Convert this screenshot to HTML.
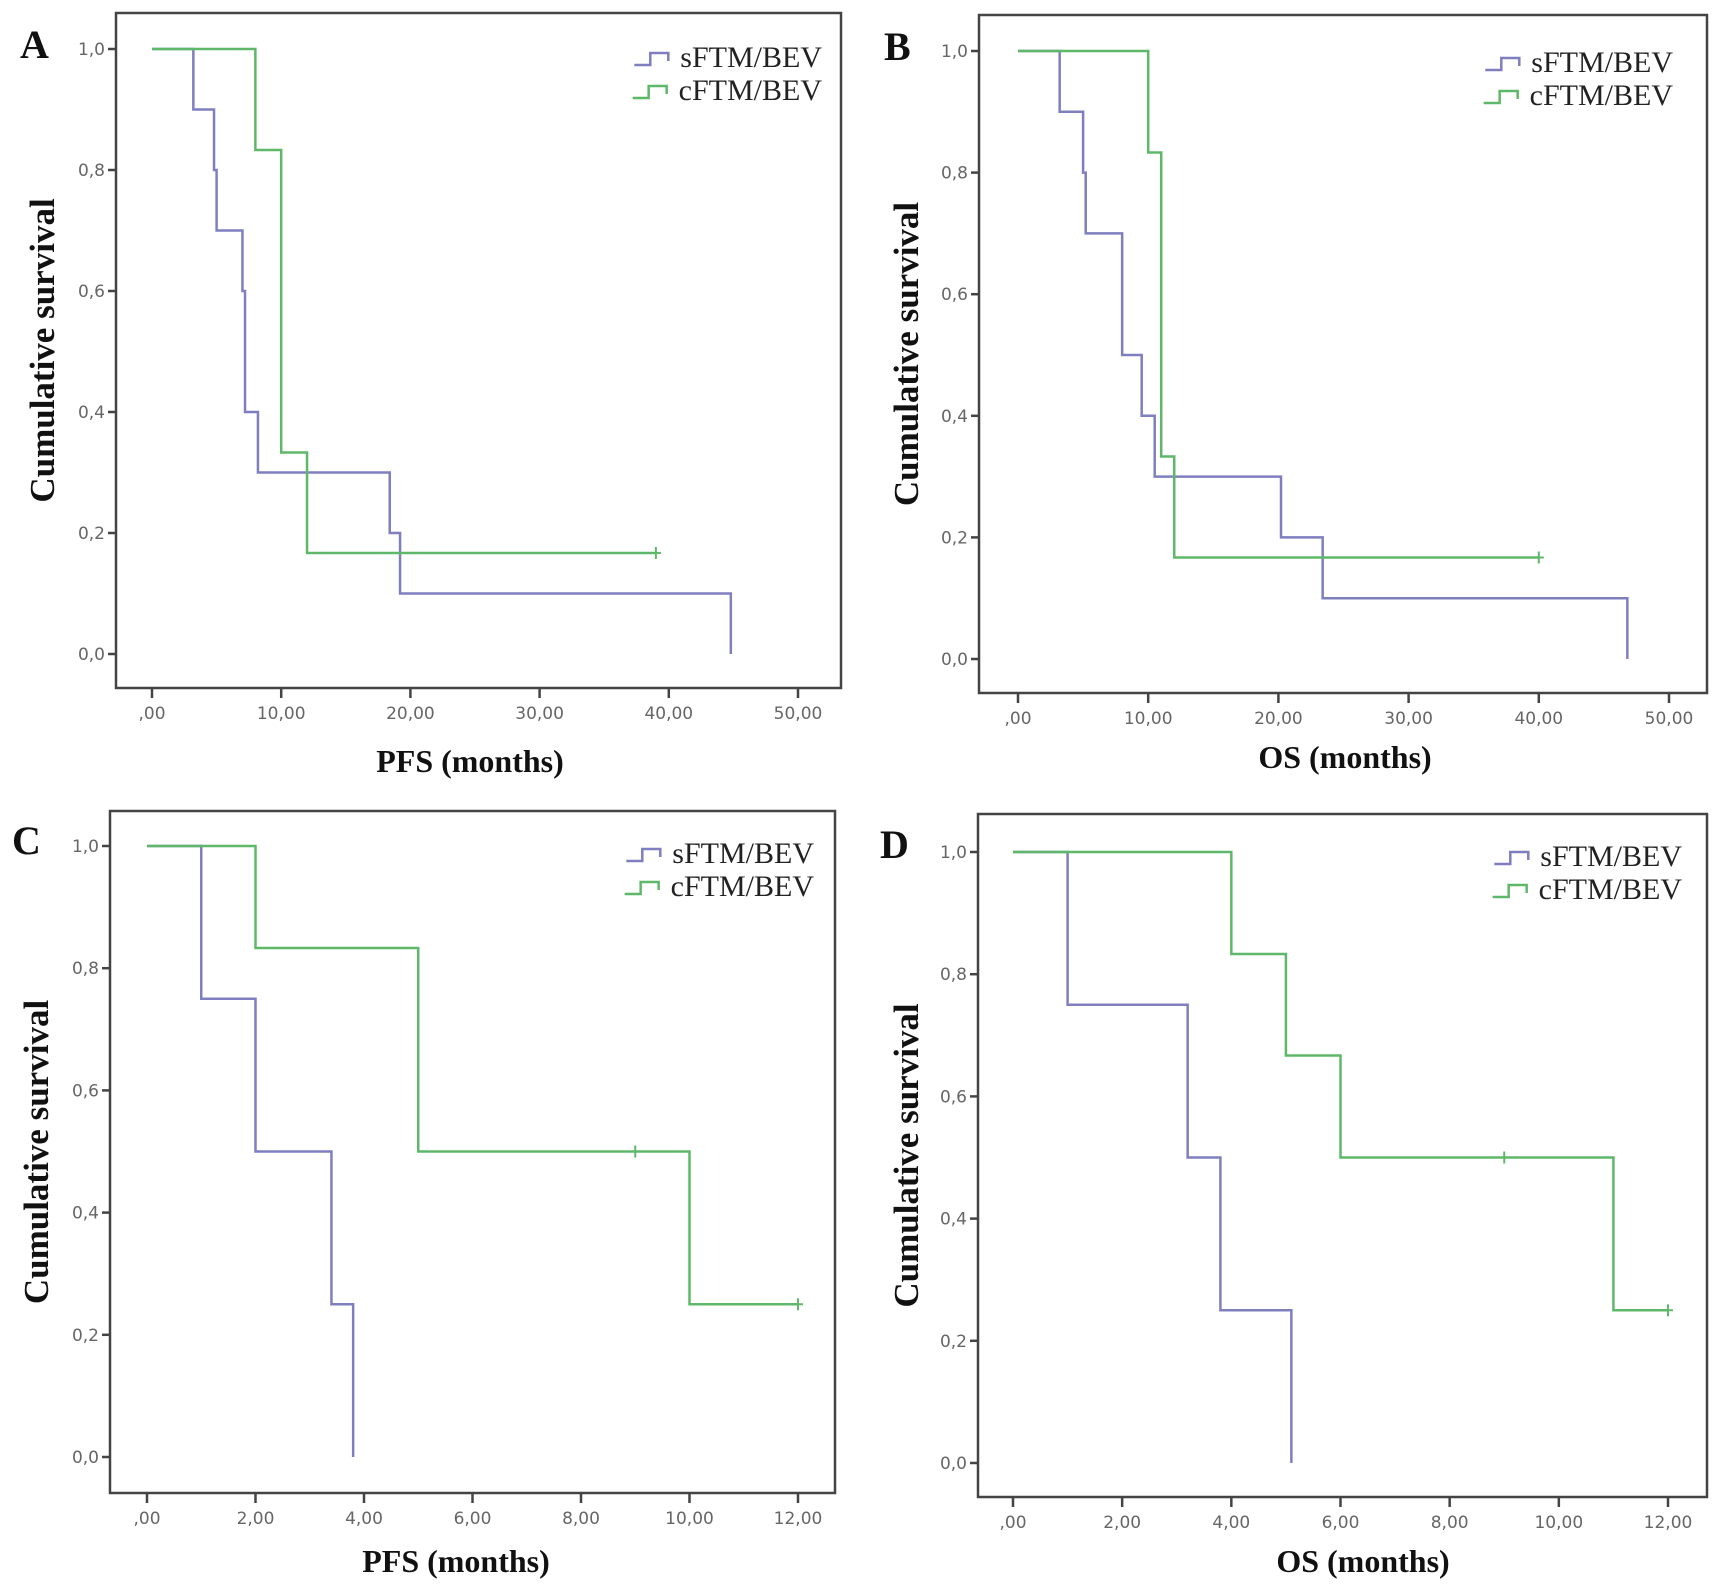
<!DOCTYPE html>
<html><head><meta charset="utf-8"><style>
html,body{margin:0;padding:0;background:#fff;}
svg{display:block;}
</style></head><body>
<svg id="fig" width="1722" height="1594" viewBox="0 0 1722 1594" xmlns="http://www.w3.org/2000/svg"></svg>
<script>
// ---- data ----
const panelLetters = ["A","B","C","D"];
const xTitles = ["PFS (months)","OS (months)","PFS (months)","OS (months)"];
const xTicksAB = [0,10,20,30,40,50];
const xTicksCD = [0,2,4,6,8,10,12];
const xTickLabelsAB = [",00","10,00","20,00","30,00","40,00","50,00"];
const xTickLabelsCD = [",00","2,00","4,00","6,00","8,00","10,00","12,00"];
const yTicks = [0,0.2,0.4,0.6,0.8,1.0];
const yTickLabels = ["0,0","0,2","0,4","0,6","0,8","1,0"];
const seriesNames = ["sFTM/BEV","cFTM/BEV"];
// step curves: times and survival after each step
const A_s_t = [0,3.2,4.8,5.0,7.0,7.2,8.2,18.4,19.2,44.8];
const A_s_v = [1,0.9,0.8,0.7,0.6,0.4,0.3,0.2,0.1,0];
const A_s_end = 44.8;
const A_c_t = [0,8.0,10.0,12.0];
const A_c_v = [1,0.833,0.333,0.167];
const A_c_end = 39; const A_c_cens = [39];
const B_s_t = [0,3.2,5.0,5.2,8.0,9.5,10.5,20.2,23.4,46.8];
const B_s_v = [1,0.9,0.8,0.7,0.5,0.4,0.3,0.2,0.1,0];
const B_s_end = 46.8;
const B_c_t = [0,10.0,11.0,12.0];
const B_c_v = [1,0.833,0.333,0.167];
const B_c_end = 40; const B_c_cens = [40];
const C_s_t = [0,1.0,2.0,3.4,3.8];
const C_s_v = [1,0.75,0.5,0.25,0];
const C_s_end = 3.8;
const C_c_t = [0,2.0,5.0,10.0];
const C_c_v = [1,0.833,0.5,0.25];
const C_c_end = 12; const C_c_cens = [9,12];
const D_s_t = [0,1.0,3.2,3.8,5.1];
const D_s_v = [1,0.75,0.5,0.25,0];
const D_s_end = 5.1;
const D_c_t = [0,4.0,5.0,6.0,11.0];
const D_c_v = [1,0.833,0.667,0.5,0.25];
const D_c_end = 12; const D_c_cens = [9,12];

const NS="http://www.w3.org/2000/svg";
const svg=document.getElementById('fig');
const BLUE="#7f7fc0", GREEN="#5fb86a";
function mk(tag,attrs,parent){const e=document.createElementNS(NS,tag);for(const k in attrs)e.setAttribute(k,attrs[k]);(parent||svg).appendChild(e);return e;}

const layouts=[
 {fx0:116,fy0:13,fx1:841,fy1:688,x0:152,xMax:50,xEnd:798,y0:654,y1:49,ticks:xTicksAB,labels:xTickLabelsAB,titleY:772,titleX:470,letterX:20,letterY:58,legX:680,legY:57,ylabX:46},
 {fx0:979,fy0:15,fx1:1707,fy1:693,x0:1018,xMax:50,xEnd:1669,y0:659,y1:51,ticks:xTicksAB,labels:xTickLabelsAB,titleY:768,titleX:1345,letterX:884,letterY:60,legX:1531,legY:62,ylabX:910},
 {fx0:110,fy0:811,fx1:835,fy1:1493,x0:147,xMax:12,xEnd:798,y0:1457,y1:846,ticks:xTicksCD,labels:xTickLabelsCD,titleY:1572,titleX:456,letterX:12,letterY:854,legX:672,legY:853,ylabX:40},
 {fx0:978,fy0:814,fx1:1707,fy1:1497,x0:1013,xMax:12,xEnd:1668,y0:1463,y1:852,ticks:xTicksCD,labels:xTickLabelsCD,titleY:1572,titleX:1363,letterX:880,letterY:858,legX:1540,legY:856,ylabX:910}
];
const panelData=[
 [[A_s_t,A_s_v,A_s_end,[]],[A_c_t,A_c_v,A_c_end,A_c_cens]],
 [[B_s_t,B_s_v,B_s_end,[]],[B_c_t,B_c_v,B_c_end,B_c_cens]],
 [[C_s_t,C_s_v,C_s_end,[]],[C_c_t,C_c_v,C_c_end,C_c_cens]],
 [[D_s_t,D_s_v,D_s_end,[]],[D_c_t,D_c_v,D_c_end,D_c_cens]]
];

layouts.forEach((L,pi)=>{
  const g=mk('g',{});
  
  
  const xs=v=>L.x0+(L.xEnd-L.x0)*v/L.xMax;
  const ys=v=>L.y0+(L.y1-L.y0)*v;
  const fr=mk('rect',{x:L.fx0,y:L.fy0,width:L.fx1-L.fx0,height:L.fy1-L.fy0,fill:'none',stroke:'#444','stroke-width':2.5},g);
  
  
  yTicks.forEach((t,i)=>{
    mk('line',{x1:L.fx0-8,x2:L.fx0,y1:ys(t),y2:ys(t),stroke:'#444','stroke-width':2.5},g);
    const tx=mk('text',{x:L.fx0-11,y:ys(t)+6,'text-anchor':'end','font-family':'DejaVu Sans, sans-serif','font-size':17,fill:'#666'},g);
    tx.textContent=yTickLabels[i];
    
    
  });
  L.ticks.forEach((t,i)=>{
    mk('line',{x1:xs(t),x2:xs(t),y1:L.fy1,y2:L.fy1+10,stroke:'#444','stroke-width':2.5},g);
    const tx=mk('text',{x:xs(t),y:L.fy1+31,'text-anchor':'middle','font-family':'DejaVu Sans, sans-serif','font-size':17,fill:'#666'},g);
    tx.textContent=L.labels[i];
    
    
  });
  const xt=mk('text',{x:L.titleX,y:L.titleY,'text-anchor':'middle','font-family':'Liberation Serif, serif','font-size':32,'font-weight':'bold',fill:'#111'},g);
  xt.textContent=xTitles[pi];
  
  
  const cy=(L.fy0+L.fy1)/2;
  const yt=mk('text',{x:L.ylabX,y:cy,'text-anchor':'middle','font-family':'Liberation Serif, serif','font-size':35,'font-weight':'bold',fill:'#111',transform:`rotate(-90 ${L.ylabX} ${cy})`,'dominant-baseline':'middle'},g);
  yt.textContent="Cumulative survival";
  
  
  const lt=mk('text',{x:L.letterX,y:L.letterY,'font-family':'Liberation Serif, serif','font-size':40,'font-weight':'bold',fill:'#111'},g);
  lt.textContent=panelLetters[pi];
  
  
  panelData[pi].forEach((s,si)=>{
    const [t,v,end,cens]=s; const col=si?GREEN:BLUE;
    let d=`M${xs(t[0])},${ys(v[0])}`;
    for(let i=1;i<t.length;i++){d+=` H${xs(t[i])} V${ys(v[i])}`;}
    d+=` H${xs(end)}`;
    const p=mk('path',{d:d,fill:'none',stroke:col,'stroke-width':2.5},g);
    
    
    cens.forEach(c=>{
      let val=v[0];for(let i=0;i<t.length;i++){if(t[i]<=c)val=v[i];}
      const m=mk('path',{d:`M${xs(c)},${ys(val)-6} V${ys(val)+6} M${xs(c)-5},${ys(val)} H${xs(c)+5}`,stroke:col,'stroke-width':2},g);
      
      
    });
    const ly=L.legY+si*33;
    const tx=mk('text',{x:L.legX+142,y:ly+10,'text-anchor':'end','font-family':'Liberation Serif, serif','font-size':30,fill:'#222'},g);
    tx.textContent=seriesNames[si];
    
    
    const tw=tx.getComputedTextLength();
    const sx=L.legX+142-tw-46;
    const ic=mk('path',{d:`M${sx},${ly+8} h16 v-12 h18 v8`,fill:'none',stroke:col,'stroke-width':2.5},g);
    
    
  });
});
</script>
</body></html>
